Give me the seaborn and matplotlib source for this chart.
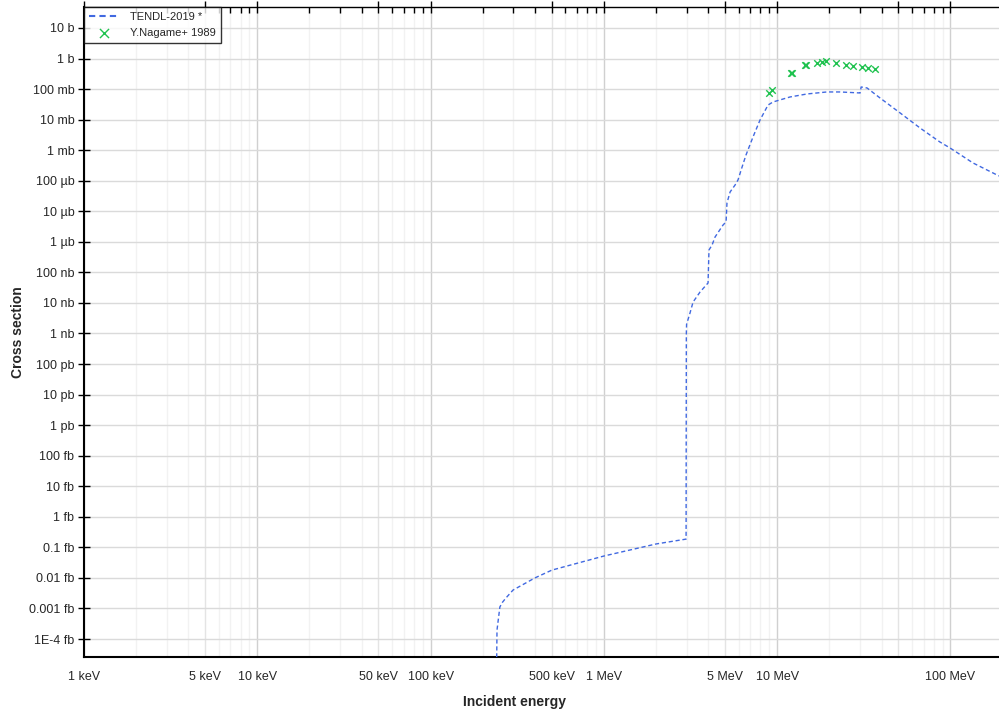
import numpy as np
import pandas as pd
import seaborn as sns
import matplotlib.pyplot as plt
from matplotlib.ticker import FixedLocator, FixedFormatter, NullFormatter

# Datos (energia en MeV, seccion eficaz en barn)
tendl_energy = [0.235, 0.2416, 0.251, 0.260, 0.272, 0.299, 0.400, 0.501, 1.0, 2.0, 2.98,
                2.99, 3.0, 3.14, 3.27, 3.59, 3.99, 4.04, 4.21, 4.38, 4.87, 5.07, 5.13,
                5.35, 5.71, 5.94, 6.27, 6.61, 7.25, 7.96, 8.85, 9.46, 11.86, 14.86,
                19.37, 23.0, 30.1, 30.5, 33.0, 39.2, 51.2, 66.7, 86.9, 99.4, 134.9, 190.5]
tendl_xs = [1e-25, 1.95e-19, 1.12e-18, 1.6e-18, 2.2e-18, 4.0e-18, 1.0e-17, 1.8e-17, 5.2e-17,
            1.29e-16, 1.86e-16, 1.0e-9, 2.0e-9, 4.7e-9, 1.07e-8, 2.29e-8, 4.5e-8, 5.4e-7,
            7.9e-7, 1.44e-6, 3.55e-6, 4.5e-6, 1.87e-5, 4.3e-5, 7.2e-5, 1.06e-4, 2.8e-4,
            7.0e-4, 2.7e-3, 9.7e-3, 0.030, 0.0378, 0.0551, 0.0691, 0.0804, 0.0804, 0.0745,
            0.117, 0.1086, 0.0511, 0.01652, 5.33e-3, 1.85e-3, 1.18e-3, 3.81e-4, 1.43e-4]

nagame_energy = [8.97, 9.33, 12.0, 12.17, 14.4, 14.66, 16.98, 18.14, 19.13, 21.8, 24.9,
                 27.4, 30.8, 33.4, 36.7]
nagame_xs = [0.0745, 0.0935, 0.325, 0.336, 0.60, 0.615, 0.715, 0.771, 0.832, 0.715, 0.615,
             0.571, 0.53, 0.49, 0.457]

x_ticks = [1e-3, 5e-3, 1e-2, 5e-2, 1e-1, 5e-1, 1, 5, 10, 50, 100]
x_labels = ["1 keV", "5 keV", "10 keV", "50 keV", "100 keV", "500 keV", "1 MeV",
            "5 MeV", "10 MeV", "", "100 MeV"]
y_ticks = [10.0 ** k for k in range(1, -20, -1)]
y_labels = ["10 b", "1 b", "100 mb", "10 mb", "1 mb", "100 µb", "10 µb", "1 µb",
            "100 nb", "10 nb", "1 nb", "100 pb", "10 pb", "1 pb", "100 fb", "10 fb",
            "1 fb", "0.1 fb", "0.01 fb", "0.001 fb", "1E-4 fb"]

df_tendl = pd.DataFrame({"E": tendl_energy, "xs": tendl_xs})
df_nag = pd.DataFrame({"E": nagame_energy, "xs": nagame_xs})

sns.set_style("white")
plt.rcParams['font.family'] = ['Liberation Sans', 'DejaVu Sans']

fig = plt.figure(figsize=(9.99, 7.12), dpi=100)
ax = fig.add_axes([0.0841, 0.0772, 0.9159, 0.913])

# Rejilla
for k in range(-3, 3):
    for m in range(1, 10):
        e = m * 10.0 ** k
        if m == 1:
            ax.axvline(e, color="#d0d0d0", lw=1.0, zorder=0)
        elif m == 5:
            ax.axvline(e, color="#e4e4e4", lw=1.0, zorder=0)
        else:
            ax.axvline(e, color="#f2f2f2", lw=1.0, zorder=0)
for y in y_ticks:
    ax.axhline(y, color="#dadada", lw=1.0, zorder=0)

sns.lineplot(data=df_tendl, x="E", y="xs", ax=ax, sort=False, color="#4169e1",
             lw=1.0, dashes=False, label="TENDL-2019 *", zorder=3)
ax.lines[-1].set_dashes((3, 2))
sns.scatterplot(data=df_nag, x="E", y="xs", ax=ax, marker="x", color="#1fc24f",
                s=22, linewidth=1.0, label="Y.Nagame+ 1989", zorder=4)

ax.set_xscale("log")
ax.set_yscale("log")
ax.set_xlim(1e-3, 190.5)
ax.set_ylim(2.57e-20, 48.6)

ax.xaxis.set_major_locator(FixedLocator(x_ticks))
ax.xaxis.set_major_formatter(FixedFormatter(x_labels))
minor_x = [m * 10.0 ** k for k in range(-3, 3) for m in (2, 3, 4, 6, 7, 8, 9)]
ax.xaxis.set_minor_locator(FixedLocator(minor_x))
ax.xaxis.set_minor_formatter(NullFormatter())
ax.yaxis.set_major_locator(FixedLocator(y_ticks))
ax.yaxis.set_major_formatter(FixedFormatter(y_labels))
ax.yaxis.set_minor_locator(FixedLocator([]))

ax.tick_params(axis="x", which="major", direction="inout", length=8, width=1,
               top=True, labelsize=9, pad=6, color="black")
ax.tick_params(axis="x", which="minor", direction="in", length=4, width=1,
               top=True, color="black")
ax.tick_params(axis="y", which="major", direction="inout", length=8, width=1,
               labelsize=9, pad=3, left=True, color="black")

for side in ["left", "bottom", "top"]:
    ax.spines[side].set_color("black")
ax.spines["left"].set_linewidth(1.5)
ax.spines["bottom"].set_linewidth(1.5)
ax.spines["top"].set_linewidth(1.0)
ax.spines["right"].set_visible(False)

ax.set_xlabel("Incident energy", fontsize=10, fontweight="bold")
ax.set_ylabel("Cross section", fontsize=10, fontweight="bold")
ax.xaxis.set_label_coords(0.47, -0.058)
ax.yaxis.set_label_coords(-0.064, 0.5)

leg = ax.legend(loc="upper left", bbox_to_anchor=(0, 1), borderaxespad=0,
                fancybox=False, fontsize=8, handlelength=2.7, borderpad=0.45,
                labelspacing=0.55, handletextpad=1.0, markerscale=1.4)
leg.get_frame().set_edgecolor("black")
leg.get_frame().set_linewidth(1.0)
leg.get_lines()[0].set_linewidth(1.5)
leg.get_lines()[0].set_dashes((3, 2))

plt.savefig("out.png", dpi=100)
